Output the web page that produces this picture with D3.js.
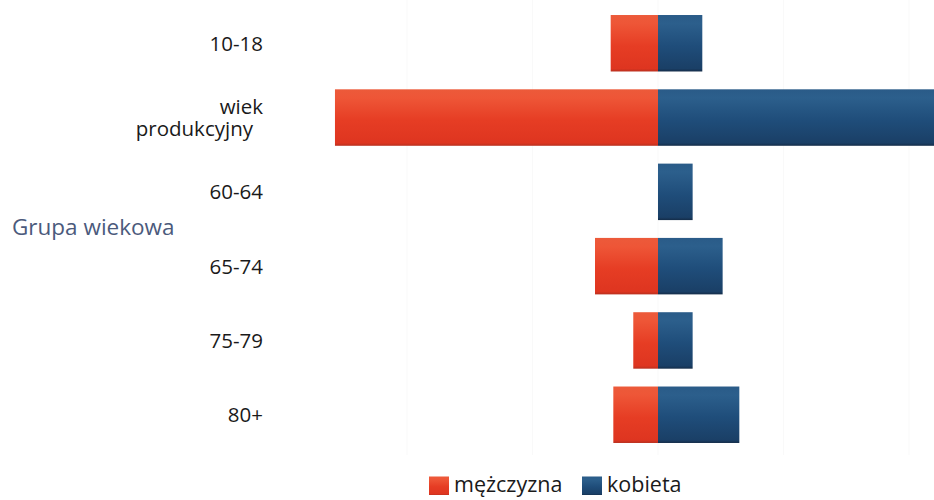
<!DOCTYPE html>
<html>
<head>
<meta charset="utf-8">
<script src="https://cdn.jsdelivr.net/npm/d3@7"></script>
<style>
  html, body { margin: 0; padding: 0; background: #fff; }
  svg { display: block; font-family: "Open Sans", "Noto Sans", sans-serif; }
</style>
</head>
<body>
<svg id="chart" width="934" height="500"></svg>
<script>
// ---- data ----
const categories = ["10-18", "wiek produkcyjny", "60-64", "65-74", "75-79", "80+"];
const categoryLines = [["10-18"], ["wiek", "produkcyjny"], ["60-64"], ["65-74"], ["75-79"], ["80+"]];
const male   = [377, 2574, 0, 502, 197, 356];
const female = [353, 2650, 276, 515, 276, 648];
const seriesNames = ["mężczyzna", "kobieta"];
const gridTicks = [-2000, -1000, 0, 1000, 2000];
const axisTitle = "Grupa wiekowa";

// ---- layout ----
const svg = d3.select("#chart");
const defs = svg.append("defs");

function grad(id, stops) {
  const g = defs.append("linearGradient").attr("id", id)
    .attr("x1", 0).attr("y1", 0).attr("x2", 0).attr("y2", 1);
  stops.forEach(([o, c]) => g.append("stop").attr("offset", o).attr("stop-color", c));
}
grad("gRed", [[0, "#ec5a3a"], [0.15, "#ee5637"], [0.55, "#e63d24"], [0.95, "#de3520"], [1, "#b8301f"]]);
grad("gBlue", [[0, "#2a5b88"], [0.15, "#2c5f8c"], [0.55, "#1f4d7a"], [0.95, "#1a3f66"], [1, "#142c48"]]);

const x = d3.scaleLinear().domain([-2000, 2000]).range([407, 909]);
const y = d3.scaleBand().domain(categories).range([6.1, 451.9]).paddingInner(0.24).paddingOuter(0.12);

// very faint gridlines
svg.append("g").selectAll("line").data(gridTicks).join("line")
  .attr("x1", d => x(d)).attr("x2", d => x(d))
  .attr("y1", 0).attr("y2", 455)
  .attr("stroke", "#f9f9f9").attr("stroke-width", 1);

// bars
const gBars = svg.append("g");
categories.forEach((c, i) => {
  if (male[i] > 0) {
    gBars.append("rect")
      .attr("x", x(-male[i])).attr("y", y(c))
      .attr("width", x(0) - x(-male[i])).attr("height", y.bandwidth())
      .attr("fill", "url(#gRed)");
  }
  if (female[i] > 0) {
    gBars.append("rect")
      .attr("x", x(0)).attr("y", y(c))
      .attr("width", x(female[i]) - x(0)).attr("height", y.bandwidth())
      .attr("fill", "url(#gBlue)");
  }
});

// category labels
const gLab = svg.append("g").attr("font-size", 20.5).attr("fill", "#1a1a1a");
categories.forEach((c, i) => {
  const lines = categoryLines[i];
  const cy = y(c) + y.bandwidth() / 2;
  const lh = 22.5;
  const t = gLab.append("text")
    .attr("text-anchor", "end")
    .attr("y", cy - (lines.length - 1) / 2 * lh)
    .attr("dy", "0.36em");
  lines.forEach((s, j) => {
    t.append("tspan")
      .attr("x", lines.length > 1 && j === 1 ? 253 : 263)
      .attr("dy", j === 0 ? null : lh)
      .text(s);
  });
});

// axis title
svg.append("text")
  .attr("x", 12).attr("y", 234.5)
  .attr("font-size", 22.5).attr("fill", "#4b5a7c")
  .text(axisTitle);

// legend
const legColors = ["url(#gRed)", "url(#gBlue)"];
const legX = [429, 582];
const gLeg = svg.append("g");
seriesNames.forEach((s, i) => {
  gLeg.append("rect").attr("x", legX[i]).attr("y", 476.5).attr("width", 20).attr("height", 18.5)
    .attr("fill", legColors[i]);
  gLeg.append("text").attr("x", legX[i] + 25).attr("y", 492)
    .attr("font-size", 21.5).attr("fill", "#1a1a1a").text(s);
});
</script>
</body>
</html>
